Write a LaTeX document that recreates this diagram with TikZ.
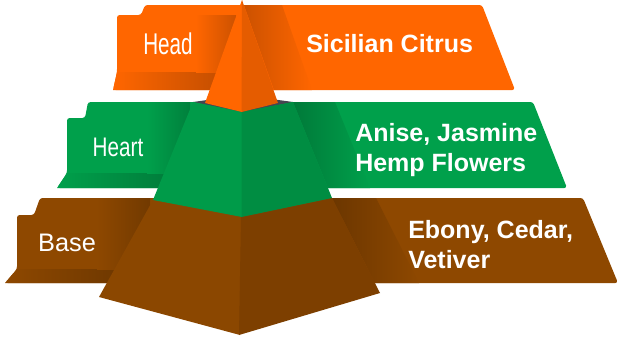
\documentclass[tikz,border=0pt]{standalone}
\usepackage{fontspec}
\setmainfont{Liberation Sans}
\usepackage{graphicx}
\usepackage{tikz}
\usetikzlibrary{calc}
\definecolor{headorange}{RGB}{255,102,0}
\definecolor{heartgreen}{RGB}{0,160,75}
\definecolor{basebrown}{RGB}{142,72,0}
\definecolor{rimgray}{RGB}{70,70,80}

\tikzset{
    lbl/.style={text=white, inner sep=0pt, font=\fontsize{15.5}{18}\selectfont},
    note/.style={text=white, inner sep=0pt, anchor=west, align=left,
        font=\fontsize{18.75}{22.5}\selectfont\bfseries},
}

\begin{document}
\begin{tikzpicture}[x=0.75pt, y=-0.75pt]
    \useasboundingbox (0,0) rectangle (620,339);

    % 顶层 Head 色带
    \fill[headorange, rounded corners=2] (145,5) -- (482,5) -- (515,90) -- (113,90) -- (117,72) -- (117,15) -- (141,15) -- cycle;
    \begin{scope}
        \clip (145,5) -- (482,5) -- (515,90) -- (113,90) -- (117,72) -- (117,15) -- (141,15) -- cycle;
        \shade[left color=headorange, middle color=headorange!96!black, right color=headorange!75!black] (113,72) rectangle (230,90);
        \shade[left color=headorange, right color=headorange!80!black] (196,15) rectangle (236,72);
        \shade[left color=headorange!80!black, right color=headorange] (244,5) -- (282,5) -- (312,90) -- (274,90) -- cycle;
    \end{scope}

    % 中层 Heart 色带
    \fill[heartgreen, rounded corners=2] (88,102) -- (533,102) -- (567,188) -- (57,188) -- (67,173) -- (67,118) -- (85,118) -- cycle;
    \begin{scope}
        \clip (88,102) -- (533,102) -- (567,188) -- (57,188) -- (67,173) -- (67,118) -- (85,118) -- cycle;
        \shade[left color=heartgreen, middle color=heartgreen!96!black, right color=heartgreen!75!black] (57,173) rectangle (185,188);
        \shade[left color=heartgreen, right color=heartgreen!80!black] (147,102) rectangle (190,173);
        \shade[left color=heartgreen!76!black, right color=heartgreen] (293,102) -- (335,102) -- (370,188) -- (328,188) -- cycle;
    \end{scope}

    % 底层 Base 色带
    \fill[basebrown, rounded corners=2] (40,198) -- (583,198) -- (618,283) -- (5,283) -- (17,269) -- (17,215) -- (34,215) -- cycle;
    \begin{scope}
        \clip (40,198) -- (583,198) -- (618,283) -- (5,283) -- (17,269) -- (17,215) -- (34,215) -- cycle;
        \shade[left color=basebrown, middle color=basebrown!96!black, right color=basebrown!75!black] (5,269) rectangle (135,283);
        \shade[left color=basebrown, right color=basebrown!80!black] (97,198) rectangle (150,269);
        \shade[left color=basebrown!76!black, right color=basebrown] (332,198) -- (376,198) -- (419,283) -- (375,283) -- cycle;
    \end{scope}

    % 金字塔（三段）
    \fill[basebrown!98!black] (153,200) -- (242,217) -- (240,335) -- (99,297) -- cycle;
    \fill[basebrown!88!black] (241,217) -- (332,198) -- (380,293) -- (239,335) -- cycle;
    \fill[rimgray] (193,102) -- (242,95) -- (293,102) -- (242,112) -- cycle;
    \fill[heartgreen!97!black] (193,102) -- (242,112) -- (242,217) -- (153,200) -- cycle;
    \fill[heartgreen!88!black] (241.5,112) -- (293,102) -- (332,198) -- (241.5,217) -- cycle;
    \fill[headorange] (242,0) -- (205,103) -- (242,112) -- cycle;
    \fill[headorange!90!black] (242,0) -- (241.5,112) -- (278,103) -- cycle;

    % 左侧标签
    \node[lbl] (headlbl) at (168,44) {\scalebox{1}[1.45]{Head}};
    \node[lbl] (heartlbl) at (118,147.5) {\scalebox{1}[1.3]{Heart}};
    \node[lbl, font=\fontsize{19}{22}\selectfont] (baselbl) at (67,242.5) {Base};

    % 右侧说明文字
    \node[note] (headtxt) at (306,44) {Sicilian Citrus};
    \node[note] (hearttxt) at (355,150) {Anise, Jasmine\\Hemp Flowers};
    \node[note] (basetxt) at (408,244.5) {Ebony, Cedar,\\Vetiver};
\end{tikzpicture}
\end{document}
